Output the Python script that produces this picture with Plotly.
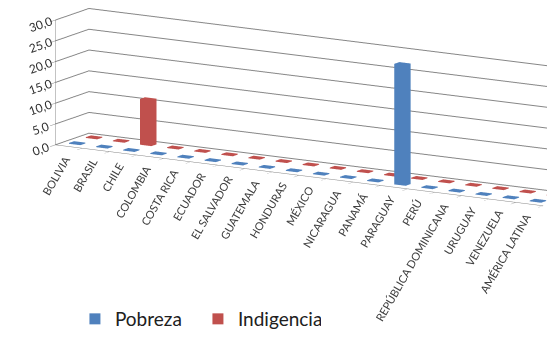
import plotly.graph_objects as go

categories = ["BOLIVIA", "BRASIL", "CHILE", "COLOMBIA", "COSTA RICA", "ECUADOR",
              "EL SALVADOR", "GUATEMALA", "HONDURAS", "MÉXICO", "NICARAGUA", "PANAMÁ",
              "PARAGUAY", "PERÚ", "REPÚBLICA DOMINICANA", "URUGUAY", "VENEZUELA",
              "AMÉRICA LATINA"]
pobreza = [0.2, 0.2, 0.2, 0.2, 0.2, 0.2, 0.2, 0.2, 0.2, 0.2, 0.2, 0.2,
           29.0, 0.2, 0.2, 0.2, 0.2, 0.2]
indigencia = [0.2, 0.2, 11.0, 0.2, 0.2, 0.2, 0.2, 0.2, 0.2, 0.2, 0.2, 0.2,
              0.2, 0.2, 0.2, 0.2, 0.2, 0.2]
series = [("Pobreza", pobreza, "#4F81BD", 0.0), ("Indigencia", indigencia, "#C0504D", 1.0)]
z_ticks = [0, 5, 10, 15, 20, 25, 30]

BW = 0.42   # bar width along categories
BD = 0.3    # bar depth


def boxes(values, depth):
    xs, ys, zs, I, J, K = [], [], [], [], [], []
    faces = [(0, 1, 2), (0, 2, 3), (4, 5, 6), (4, 6, 7),
             (0, 1, 5), (0, 5, 4), (1, 2, 6), (1, 6, 5),
             (2, 3, 7), (2, 7, 6), (3, 0, 4), (3, 4, 7)]
    for i, v in enumerate(values):
        b = len(xs)
        x0, x1 = i - BW / 2, i + BW / 2
        y0, y1 = depth - BD / 2, depth + BD / 2
        for (x, y, z) in [(x0, y0, 0), (x1, y0, 0), (x1, y1, 0), (x0, y1, 0),
                          (x0, y0, v), (x1, y0, v), (x1, y1, v), (x0, y1, v)]:
            xs.append(x); ys.append(y); zs.append(z)
        for f in faces:
            I.append(b + f[0]); J.append(b + f[1]); K.append(b + f[2])
    return xs, ys, zs, I, J, K


fig = go.Figure()
for name, vals, col, d in series:
    xs, ys, zs, I, J, K = boxes(vals, d)
    fig.add_trace(go.Mesh3d(x=xs, y=ys, z=zs, i=I, j=J, k=K, color=col,
                            flatshading=True, showlegend=False, hoverinfo="skip",
                            lighting=dict(ambient=1.0, diffuse=0.4, specular=0.05,
                                          roughness=0.9, fresnel=0.0),
                            lightposition=dict(x=-1000, y=-3000, z=2000)))
    fig.add_trace(go.Scatter(x=[None], y=[None], mode="markers", name=name,
                             marker=dict(symbol="square", size=11, color=col)))

annotations = []
for i, c in enumerate(categories):
    annotations.append(dict(x=i, y=-0.5, z=0, text=c, showarrow=False,
                            textangle=-60, xanchor="right", yanchor="top",
                            xshift=6, yshift=-4,
                            font=dict(size=11, color="#404040", family="Lato")))

ax_common = dict(showbackground=False, showspikes=False, title=dict(text=""))
fig.update_layout(
    width=547, height=338,
    margin=dict(l=0, r=0, t=0, b=0),
    paper_bgcolor="white", plot_bgcolor="white",
    separators=",.",
    font=dict(family="Lato", color="#404040"),
    xaxis=dict(visible=False), yaxis=dict(visible=False),
    showlegend=True,
    legend=dict(orientation="h", x=0.137, y=0.0, xanchor="left", yanchor="bottom",
                font=dict(size=19, color="#202020", family="Lato"),
                itemwidth=30, entrywidth=78),
    scene=dict(
        domain=dict(x=[0, 1], y=[0.08, 1]),
        xaxis=dict(ax_common, range=[-0.5, len(categories) - 0.5],
                   tickvals=[i - 0.5 for i in range(len(categories) + 1)],
                   ticktext=["" for _ in range(len(categories) + 1)],
                   ticks="outside", ticklen=5, tickcolor="#868686",
                   showgrid=False, showline=True, linecolor="#868686", zeroline=False),
        yaxis=dict(ax_common, range=[-0.5, 1.5], showticklabels=False, showgrid=False,
                   zeroline=False, showline=False),
        zaxis=dict(ax_common, range=[0, 30], tickvals=z_ticks, tickformat=".1f",
                   gridcolor="#868686", showline=True, linecolor="#868686",
                   ticks="outside", ticklen=4, tickcolor="#868686",
                   zeroline=False, tickfont=dict(size=12, color="#303030", family="Lato")),
        aspectmode="manual", aspectratio=dict(x=3.66, y=0.42, z=0.82),
        camera=dict(eye=dict(x=0.706, y=-1.706, z=0.07),
                    center=dict(x=-0.319, y=0, z=-0.353),
                    projection=dict(type="orthographic")),
        annotations=annotations,
    ),
)
fig.write_html("out.html")
